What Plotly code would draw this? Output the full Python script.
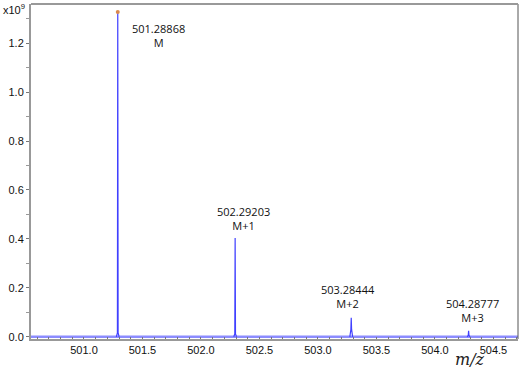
import plotly.graph_objects as go

# Data
peak_mz = [501.28868, 502.29203, 503.28444, 504.28777]
peak_height = [1.327, 0.404, 0.078, 0.024]      # x10^9
peak_label = ["M", "M+1", "M+2", "M+3"]
base_hump = [0.016, 0.012, 0.03, 0.006]
x_range = [500.547, 504.71]
y_range = [-0.009, 1.36]

# build a stick/profile trace from the peak list
xs, ys = [], []
for c, h, b in zip(peak_mz, peak_height, base_hump):
    xs += [c - 0.012, c - 0.003, c, c + 0.003, c + 0.012, None]
    ys += [0, b, h, b, 0, None]

fig = go.Figure()
fig.add_trace(go.Scatter(x=x_range, y=[0, 0], mode="lines",
                         line=dict(color="#8c8cff", width=2.5), hoverinfo="skip"))
fig.add_trace(go.Scatter(x=xs, y=ys, mode="lines",
                         line=dict(color="#4040ff", width=1.2), connectgaps=False))
fig.add_trace(go.Scatter(x=[peak_mz[0]], y=[peak_height[0]], mode="markers",
                         marker=dict(color="#d98a50", size=4)))

ann_font = dict(family="Open Sans, Arial", size=11, color="#111")
# label positions (data coords)
lab_pos = [(peak_mz[0] + 0.345, 1.165), (peak_mz[1] + 0.068, 0.415),
           (peak_mz[2] - 0.025, 0.098), (peak_mz[3] + 0.035, 0.04)]
for (x, y), c, lab in zip(lab_pos, peak_mz, peak_label):
    fig.add_annotation(x=x, y=y, text=f"{c:.5f}<br>{lab}", showarrow=False,
                       font=ann_font, xanchor="center", yanchor="bottom", align="center")

fig.add_annotation(xref="paper", yref="paper", x=-0.062, y=1.012, text="x10<sup>9</sup>",
                   showarrow=False, xanchor="left", yanchor="top",
                   font=dict(family="Arial", size=11, color="#111"))
fig.add_annotation(xref="paper", yref="paper", x=0.901, y=-0.06, text="<i>m/z</i>",
                   showarrow=False, xanchor="center", yanchor="middle",
                   font=dict(family="DejaVu Serif", size=16, color="#222"))

fig.add_shape(type="line", xref="paper", yref="paper", x0=1, x1=1, y0=0, y1=1,
              line=dict(color="#555", width=1))
fig.add_shape(type="line", xref="paper", yref="paper", x0=0, x1=1, y0=1, y1=1,
              line=dict(color="#999", width=2))

fig.update_layout(
    width=520, height=368, margin=dict(l=31, r=2, t=4, b=29),
    plot_bgcolor="white", paper_bgcolor="white", showlegend=False,
    xaxis=dict(range=x_range, tickvals=[501.0, 501.5, 502.0, 502.5, 503.0, 503.5, 504.0, 504.5],
               tickformat=".1f", showgrid=False, zeroline=False,
               showline=True, linecolor="#999", linewidth=2,
               ticks="inside", ticklen=2, tickcolor="#777",
               minor=dict(dtick=0.1, ticks="inside", ticklen=2, tickcolor="#777"),
               tickfont=dict(family="Arial", size=11, color="#111")),
    yaxis=dict(range=y_range, tickvals=[0, 0.2, 0.4, 0.6, 0.8, 1.0, 1.2],
               tickformat=".1f", showgrid=False, zeroline=False,
               showline=True, linecolor="#999", linewidth=2,
               ticks="outside", ticklen=3, tickcolor="#777",
               minor=dict(dtick=0.1, ticks="outside", ticklen=3, tickcolor="#999"),
               tickfont=dict(family="Arial", size=11, color="#111")),
)
fig.write_html("out.html")
